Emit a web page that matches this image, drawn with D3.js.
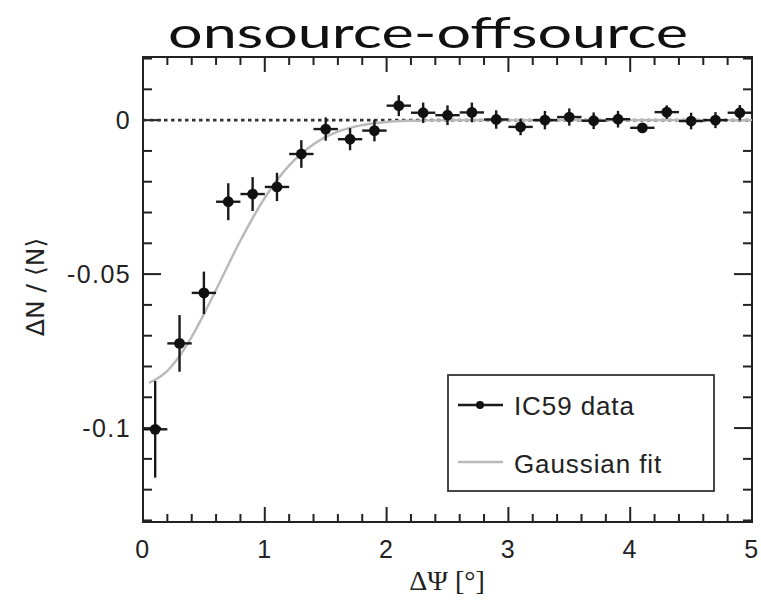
<!DOCTYPE html>
<html>
<head>
<meta charset="utf-8">
<script src="https://cdn.jsdelivr.net/npm/d3@7"></script>
<style>
  body{margin:0;background:#fff;}
  svg{display:block;}
  .tick-label{font-family:"Liberation Sans",Arial,sans-serif;font-size:25px;letter-spacing:1.4px;fill:#222;}
</style>
</head>
<body>
<svg id="chart" width="761" height="605"></svg>
<script>
var binX=[0.1,0.3,0.5,0.7,0.9,1.1,1.3,1.5,1.7,1.9,2.1,2.3,2.5,2.7,2.9,3.1,3.3,3.5,3.7,3.9,4.1,4.3,4.5,4.7,4.9];
var binHalf=[0.1,0.1,0.1,0.1,0.1,0.1,0.1,0.1,0.1,0.1,0.1,0.1,0.1,0.1,0.1,0.1,0.1,0.1,0.1,0.1,0.1,0.1,0.1,0.1,0.1];
var dataY=[-0.1004,-0.0725,-0.0561,-0.0265,-0.024,-0.0217,-0.011,-0.0029,-0.0062,-0.0034,0.0047,0.0024,0.0016,0.0025,0.0002,-0.0022,0,0.001,-0.0002,0.0003,-0.0025,0.0026,-0.0003,0,0.0024];
var errY=[0.0157,0.0092,0.0069,0.006,0.0055,0.0046,0.0045,0.0038,0.0036,0.0035,0.0034,0.0033,0.0032,0.0032,0.003,0.0027,0.003,0.0028,0.0027,0.0027,0.0015,0.0022,0.0027,0.0026,0.0025];
// gaussian fit curve
var fitX=[0.05,0.2,0.3,0.4,0.5,0.6,0.8,1.0,1.2,1.4,1.6,1.8,2.0,2.2,2.5,3,4,5];
var fitY=[-0.0853,-0.0814,-0.0766,-0.0704,-0.063,-0.0551,-0.0391,-0.0252,-0.0147,-0.0078,-0.0037,-0.0016,-0.0006,-0.0002,0,0,0,0];
var xTicks=[0,1,2,3,4,5];
var yTicks=[0,-0.05,-0.1];
var yTickLabels=['0','-0.05','-0.1'];

var svg=d3.select('#chart');
var L=143,R=752,T=57,B=522;
var x=d3.scaleLinear().domain([0,5]).range([L,R]);
var y=d3.scaleLinear().domain([-0.1305,0.0205]).range([B,T]);
var ink='#222';

//title
svg.append('text')
  .attr('x',428).attr('y',48)
  .attr('text-anchor','middle')
  .attr('textLength',520).attr('lengthAdjust','spacingAndGlyphs')
  .style('font-family','"Comic Sans MS","Lato",sans-serif')
  .style('font-size','42px')
  .style('fill','#111')
  .text('onsource-offsource');

// minor / major ticks drawn inside the frame on all four sides
var xMinor=d3.range(0,5.001,0.2);
var yMinor=d3.range(-0.13,0.0201,0.01);
var tg=svg.append('g').attr('stroke',ink).attr('stroke-width',2);
xMinor.forEach(function(v){
  var major=Math.abs(v-Math.round(v))<1e-6;
  var len=major?15:8;
  tg.append('line').attr('x1',x(v)).attr('x2',x(v)).attr('y1',B).attr('y2',B-len);
  tg.append('line').attr('x1',x(v)).attr('x2',x(v)).attr('y1',T).attr('y2',T+len);
});
yMinor.forEach(function(v){
  var major=Math.abs(v/0.05-Math.round(v/0.05))<1e-6;
  var len=major?18:9;
  tg.append('line').attr('y1',y(v)).attr('y2',y(v)).attr('x1',L).attr('x2',L+len);
  tg.append('line').attr('y1',y(v)).attr('y2',y(v)).attr('x1',R).attr('x2',R-len);
});

// frame
svg.append('rect').attr('x',L).attr('y',T).attr('width',R-L).attr('height',B-T)
  .attr('fill','none').attr('stroke',ink).attr('stroke-width',2);

// tick labels
svg.selectAll('.xl').data(xTicks).enter().append('text')
  .attr('class','tick-label')
  .attr('x',function(d){return x(d);}).attr('y',B+36)
  .attr('text-anchor','middle')
  .text(function(d){return d;});
svg.selectAll('.yl').data(yTicks).enter().append('text')
  .attr('class','tick-label')
  .attr('x',L-12).attr('y',function(d){return y(d)+9;})
  .attr('text-anchor','end')
  .text(function(d,i){return yTickLabels[i];});

// axis titles
svg.append('text')
  .attr('x',447).attr('y',590)
  .attr('text-anchor','middle')
  .style('font-family','"Liberation Serif","Times New Roman",serif')
  .style('font-size','28px').style('fill','#222')
  .text('ΔΨ [°]');
svg.append('text')
  .attr('transform','translate(44,287) rotate(-90)')
  .attr('text-anchor','middle')
  .style('font-family','"DejaVu Sans",sans-serif')
  .style('font-size','25px').style('fill','#222')
  .text('ΔN / ⟨N⟩');

// zero line
svg.append('line')
  .attr('x1',x(0)).attr('x2',x(5)).attr('y1',y(0)).attr('y2',y(0))
  .attr('stroke','#333').attr('stroke-width',2.8).attr('stroke-dasharray','3.5,3.5');

// gaussian fit
var line=d3.line().x(function(d,i){return x(fitX[i]);}).y(function(d){return y(d);}).curve(d3.curveMonotoneX);
svg.append('path').datum(fitY).attr('d',line)
  .attr('fill','none').attr('stroke','#b9b9b9').attr('stroke-width',2.4);

// data points with error bars
var pts=svg.append('g');
binX.forEach(function(bx,i){
  var g=pts.append('g').attr('stroke','#1a1a1a').attr('stroke-width',2.4);
  g.append('line').attr('x1',x(bx-binHalf[i])).attr('x2',x(bx+binHalf[i]))
    .attr('y1',y(dataY[i])).attr('y2',y(dataY[i]));
  g.append('line').attr('x1',x(bx)).attr('x2',x(bx))
    .attr('y1',y(dataY[i]-errY[i])).attr('y2',y(dataY[i]+errY[i]));
  pts.append('circle').attr('cx',x(bx)).attr('cy',y(dataY[i])).attr('r',5.4).attr('fill','#111');
});

// legend
var lg=svg.append('g');
lg.append('rect').attr('x',448).attr('y',375).attr('width',266).attr('height',116)
  .attr('fill','#fff').attr('stroke','#333').attr('stroke-width',1.8);
lg.append('line').attr('x1',458).attr('x2',503).attr('y1',405).attr('y2',405)
  .attr('stroke','#1a1a1a').attr('stroke-width',2.4);
lg.append('circle').attr('cx',480).attr('cy',405).attr('r',4).attr('fill','#111');
lg.append('text').attr('class','tick-label').attr('x',514).attr('y',415).style('font-size','26px').style('letter-spacing','0.9px').text('IC59 data');
lg.append('line').attr('x1',458).attr('x2',503).attr('y1',462).attr('y2',462)
  .attr('stroke','#b9b9b9').attr('stroke-width',2.4);
lg.append('text').attr('class','tick-label').attr('x',514).attr('y',473).style('font-size','26px').style('letter-spacing','0.9px').text('Gaussian fit');
</script>
</body>
</html>
